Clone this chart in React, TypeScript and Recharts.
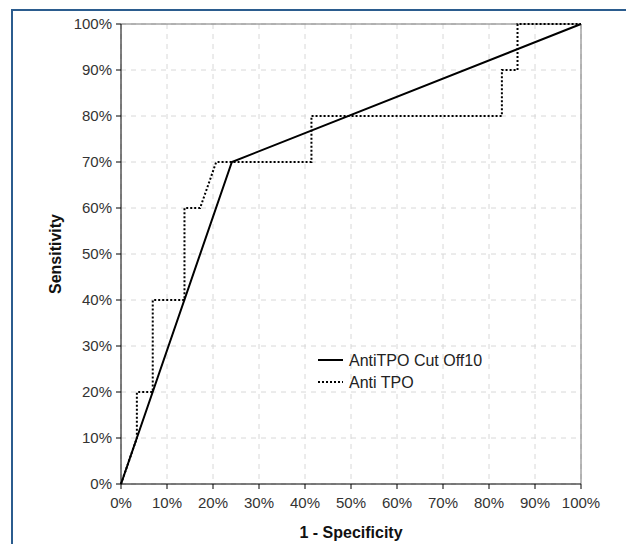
import { CartesianGrid, Line, LineChart, ReferenceLine, XAxis, YAxis } from "recharts";

// ROC coordinates (1 - specificity, sensitivity).
const cutOffX = [0, 0.241, 1];
const cutOffY = [0, 0.7, 1];

const antiTpoX = [0, 0.0345, 0.0345, 0.069, 0.069, 0.138, 0.138, 0.172, 0.207, 0.414, 0.414, 0.828, 0.828, 0.862, 0.862, 1];
const antiTpoY = [0, 0.1, 0.2, 0.2, 0.4, 0.4, 0.6, 0.6, 0.7, 0.7, 0.8, 0.8, 0.9, 0.9, 1, 1];

const ticks = [0, 0.1, 0.2, 0.3, 0.4, 0.5, 0.6, 0.7, 0.8, 0.9, 1];

const seriesNames = ["AntiTPO Cut Off10", "Anti TPO"];

const cutOffData = cutOffX.map((x, i) => ({ x, y: cutOffY[i] }));
const antiTpoData = antiTpoX.map((x, i) => ({ x, y: antiTpoY[i] }));

const FONT = "'Liberation Sans', Arial, sans-serif";
const pct = (v: number) => `${Math.round(v * 100)}%`;

// legend sits inside the plot, drawn as an overlay so it takes no room from the axes
function LegendBox() {
  return (
    <svg
      width={220}
      height={44}
      style={{ position: "absolute", left: 318, top: 349, display: "block" }}
    >
      <line x1={0} x2={25} y1={11} y2={11} stroke="#000" strokeWidth={2} />
      <text x={31} y={17} fontSize={16} fontFamily={FONT} fill="#222">
        {seriesNames[0]}
      </text>
      <line x1={0} x2={25} y1={33} y2={33} stroke="#000" strokeWidth={2} strokeDasharray="2 2" />
      <text x={31} y={39} fontSize={16} fontFamily={FONT} fill="#222">
        {seriesNames[1]}
      </text>
    </svg>
  );
}

export default function App() {
  return (
    <div
      style={{
        position: "fixed",
        left: 0,
        top: 0,
        width: 626,
        height: 544,
        background: "#fff",
        overflow: "hidden",
      }}
    >
      <div
        style={{
          position: "absolute",
          left: 11,
          top: 9,
          width: 700,
          height: 700,
          borderTop: "2px solid #2b5c8e",
          borderLeft: "2px solid #2b5c8e",
        }}
      />
      <LineChart
        width={626}
        height={544}
        margin={{ top: 24, right: 45, bottom: 0, left: 0 }}
        style={{ position: "absolute", left: 0, top: 0, fontFamily: FONT }}
      >
        <CartesianGrid stroke="#d8d8d8" strokeDasharray="5 5" />
        <XAxis
          type="number"
          dataKey="x"
          domain={[0, 1]}
          ticks={ticks}
          tickFormatter={pct}
          height={60}
          tickSize={5}
          tickMargin={8}
          stroke="#000"
          tick={{ fill: "#333", fontSize: 15 }}
          allowDuplicatedCategory={false}
          label={({ viewBox }: any) => (
            <text
              x={viewBox.x + viewBox.width / 2}
              y={538}
              textAnchor="middle"
              fontSize={16}
              fontWeight="bold"
              fontFamily={FONT}
              fill="#111"
            >
              1 - Specificity
            </text>
          )}
        />
        <YAxis
          type="number"
          dataKey="y"
          domain={[0, 1]}
          ticks={ticks}
          tickFormatter={pct}
          width={121}
          tickSize={5}
          tickMargin={4}
          stroke="#000"
          tick={{ fill: "#333", fontSize: 15 }}
          label={({ viewBox }: any) => {
            const cy = viewBox.y + viewBox.height / 2;
            return (
              <text
                x={61}
                y={cy}
                transform={`rotate(-90 61 ${cy})`}
                textAnchor="middle"
                fontSize={16}
                fontWeight="bold"
                fontFamily={FONT}
                fill="#111"
              >
                Sensitivity
              </text>
            );
          }}
        />
        <ReferenceLine y={1} stroke="#777" />
        <ReferenceLine x={1} stroke="#777" />
        <Line
          data={cutOffData}
          dataKey="y"
          name={seriesNames[0]}
          type="linear"
          stroke="#000"
          strokeWidth={2}
          dot={false}
          activeDot={false}
          isAnimationActive={false}
        />
        <Line
          data={antiTpoData}
          dataKey="y"
          name={seriesNames[1]}
          type="linear"
          stroke="#000"
          strokeWidth={2}
          strokeDasharray="2 2"
          dot={false}
          activeDot={false}
          isAnimationActive={false}
        />
      </LineChart>
      <LegendBox />
    </div>
  );
}
